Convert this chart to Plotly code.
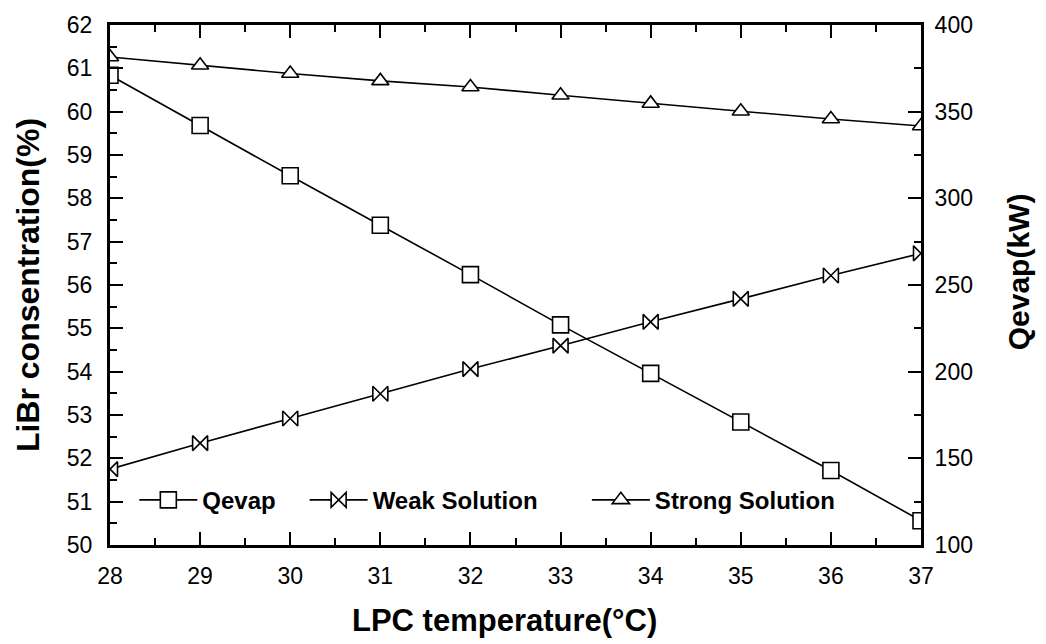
import plotly.graph_objects as go

# Data
lpc_temp = [28, 29, 30, 31, 32, 33, 34, 35, 36, 37]
qevap = [371, 342, 313, 284.5, 256, 227, 199, 171, 143, 114]
weak_solution = [51.75, 52.35, 52.92, 53.49, 54.06, 54.60, 55.15, 55.68, 56.22, 56.73]
strong_solution = [61.26, 61.07, 60.88, 60.71, 60.57, 60.38, 60.19, 60.01, 59.83, 59.67]

x_ticks = list(range(28, 38))
left_ticks = list(range(50, 63))
right_ticks = list(range(100, 401, 50))

FONT = "Liberation Sans, Arial, sans-serif"

fig = go.Figure()

marker_line = dict(color="black", width=1.6)

fig.add_trace(go.Scatter(
    x=lpc_temp, y=qevap, name="<b>Qevap</b>", yaxis="y2",
    mode="lines+markers",
    line=dict(color="black", width=1.6),
    marker=dict(symbol="square", size=16, color="white", line=marker_line),
    legend="legend", showlegend=True,
))
fig.add_trace(go.Scatter(
    x=lpc_temp, y=weak_solution, name="<b>Weak Solution</b>",
    mode="lines+markers",
    line=dict(color="black", width=1.6),
    marker=dict(symbol="bowtie", size=15, color="white", line=marker_line),
    legend="legend2", showlegend=True,
))
fig.add_trace(go.Scatter(
    x=lpc_temp, y=strong_solution, name="<b>Strong Solution</b>",
    mode="lines+markers",
    line=dict(color="black", width=1.6),
    marker=dict(symbol="triangle-up", size=15, color="white", line=marker_line),
    legend="legend3", showlegend=True,
))

axis_common = dict(
    showline=True, linecolor="black", linewidth=3,
    ticks="inside", ticklen=13, tickwidth=2, tickcolor="black",
    showgrid=False, zeroline=False,
    tickfont=dict(family=FONT, size=23, color="black"),
)

leg_common = dict(
    orientation="h", yanchor="middle", y=0.086, xanchor="left",
    bgcolor="rgba(0,0,0,0)", borderwidth=0,
    font=dict(family=FONT, size=24, color="black"),
    itemwidth=58,
)

fig.update_layout(
    width=1046, height=644,
    margin=dict(l=110, r=125, t=23, b=99),
    paper_bgcolor="white", plot_bgcolor="white",
    font=dict(family=FONT, color="black"),
    showlegend=True,
    xaxis=dict(
        range=[28, 37], tickvals=x_ticks, mirror="ticks",
        minor=dict(dtick=0.5, ticks="inside", ticklen=7, tickwidth=2, tickcolor="black"),
        ticklabelstandoff=8,
        **axis_common,
    ),
    yaxis=dict(
        range=[50, 62], tickvals=left_ticks,
        minor=dict(dtick=0.5, ticks="inside", ticklen=7, tickwidth=2, tickcolor="black"),
        ticklabelstandoff=10,
        title=dict(text="<b>LiBr consentration(%)</b>",
                   font=dict(family=FONT, size=32, color="black"), standoff=18),
        **axis_common,
    ),
    yaxis2=dict(
        range=[100, 400], tickvals=right_ticks, overlaying="y", side="right",
        minor=dict(dtick=25, ticks="inside", ticklen=7, tickwidth=2, tickcolor="black"),
        ticklabelstandoff=6,
        **axis_common,
    ),
    annotations=[
        dict(
            text="<b>Qevap(kW)</b>", textangle=-90,
            xref="paper", yref="paper", x=1.12, y=0.525,
            xanchor="center", yanchor="middle", showarrow=False,
            font=dict(family=FONT, size=30, color="black"),
        ),
        dict(
            text="<b>LPC temperature(°C)</b>",
            xref="paper", yref="paper", x=0.487, y=-0.145,
            xanchor="center", yanchor="middle", showarrow=False,
            font=dict(family=FONT, size=31, color="black"),
        ),
    ],
    legend=dict(x=0.03, **leg_common),
    legend2=dict(x=0.24, **leg_common),
    legend3=dict(x=0.588, **leg_common),
)

fig.write_html("out.html")
